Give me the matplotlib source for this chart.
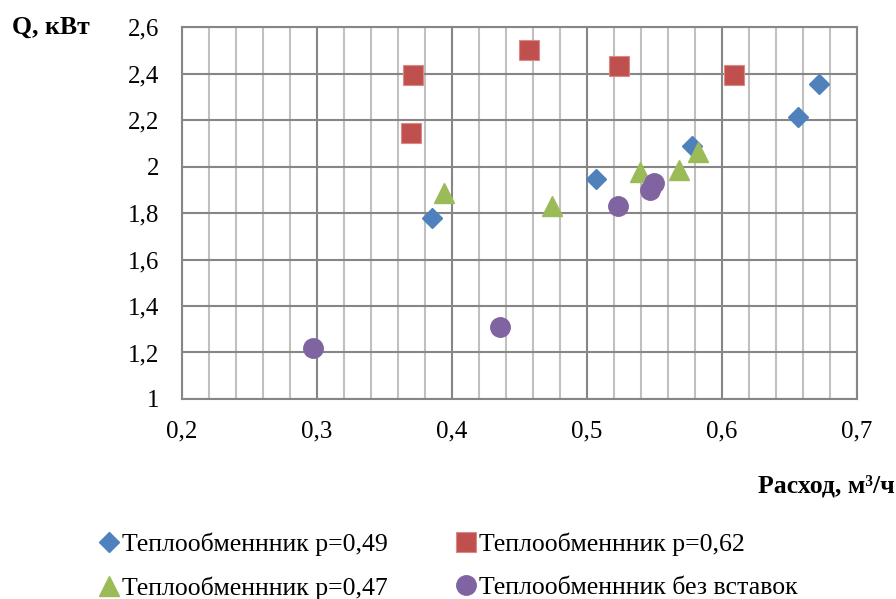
import matplotlib
matplotlib.use("Agg")
import matplotlib.pyplot as plt
from matplotlib.ticker import MultipleLocator, FuncFormatter

plt.rcParams['font.family'] = ['Liberation Serif', 'DejaVu Serif']

# Data
x_049 = [0.385, 0.507, 0.578, 0.656, 0.672]
y_049 = [1.778, 1.946, 2.090, 2.213, 2.355]

x_062 = [0.371, 0.3696, 0.457, 0.524, 0.609]
y_062 = [2.392, 2.146, 2.502, 2.434, 2.392]

x_047 = [0.394, 0.474, 0.539, 0.568, 0.582]
y_047 = [1.886, 1.832, 1.978, 1.986, 2.062]

x_none = [0.297, 0.4356, 0.523, 0.547, 0.5496]
y_none = [1.219, 1.310, 1.828, 1.899, 1.929]

labels = ["Теплообменнник р=0,49", "Теплообменнник р=0,62",
          "Теплообменнник р=0,47", "Теплообменнник без вставок"]
colors = ["#4F81BD", "#C0504D", "#9BBB59", "#8064A2"]

fig = plt.figure(figsize=(8.96, 5.99), dpi=100)
ax = fig.add_axes([0.2031, 0.3339, 0.7534, 0.621])

h1, = ax.plot(x_049, y_049, 'D', color=colors[0], ms=10, mec=colors[0], ls='none', label=labels[0], zorder=3)
h2, = ax.plot(x_062, y_062, 's', color=colors[1], ms=14, mec='#D88A88', mew=0.8, ls='none', label=labels[1], zorder=3)
h3, = ax.plot(x_047, y_047, '^', color=colors[2], ms=14, mec=colors[2], ls='none', label=labels[2], zorder=3)
h4, = ax.plot(x_none, y_none, 'o', color=colors[3], ms=14, mec=colors[3], ls='none', label=labels[3], zorder=3)

ax.set_xlim(0.2, 0.7)
ax.set_ylim(1.0, 2.6)
ax.xaxis.set_major_locator(MultipleLocator(0.1))
ax.xaxis.set_minor_locator(MultipleLocator(0.02))
ax.yaxis.set_major_locator(MultipleLocator(0.2))

def fmt(v, pos):
    s = f"{v:.1f}".rstrip('0').rstrip('.')
    return s.replace('.', ',')

ax.xaxis.set_major_formatter(FuncFormatter(fmt))
ax.yaxis.set_major_formatter(FuncFormatter(fmt))

ax.grid(which='major', axis='both', color='#868686', lw=1.5, zorder=1)
ax.grid(which='minor', axis='x', color='#C0C0C0', lw=1.5, zorder=0)
ax.set_axisbelow(True)
for s in ax.spines.values():
    s.set_color('#868686')
    s.set_linewidth(1.5)

ax.tick_params(which='both', length=0, labelsize=18)
ax.tick_params(axis='x', pad=15.5)
ax.tick_params(axis='y', pad=16.5)

fig.text(12/896, 1 - 27/599, "Q, кВт", fontsize=18.5, fontweight='bold', ha='left', va='center')
fig.text(895/896, 1 - 486/599, "Расход, м³/ч", fontsize=18.5, fontweight='bold', ha='right', va='center')

fig.legend([h1, h3, h2, h4], [labels[0], labels[2], labels[1], labels[3]],
           ncol=2, loc='center left', bbox_to_anchor=(101/896, 1 - 566/599),
           frameon=False, fontsize=18.5, handlelength=0.6, handletextpad=0.2,
           columnspacing=2.78, labelspacing=0.8, borderaxespad=0, borderpad=0,
           markerscale=1.0)

fig.savefig("out.png", dpi=100)
